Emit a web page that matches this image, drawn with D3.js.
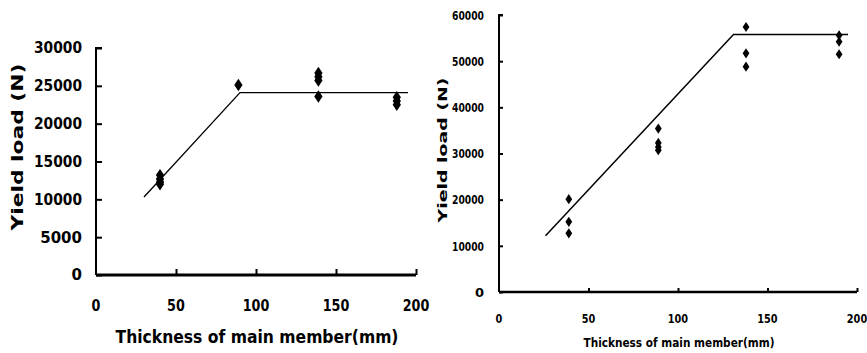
<!DOCTYPE html>
<html>
<head>
<meta charset="utf-8">
<script src="https://cdn.jsdelivr.net/npm/d3@7"></script>
<style>
  body { margin: 0; background: #fff; }
  svg { display: block; }
  text { font-family: "DejaVu Sans", sans-serif; font-weight: bold; fill: #000; }
</style>
</head>
<body>
<svg id="chart" width="867" height="353"></svg>
<script>
// dados
const xTicks = [0, 50, 100, 150, 200];

// painel esquerdo
const leftYTicks = [0, 5000, 10000, 15000, 20000, 25000, 30000];
const leftPointsX = [40, 40, 40, 40, 89, 139, 139, 139, 139, 188, 188, 188];
const leftPointsY = [13200, 12700, 12300, 12000, 25100, 26700, 26200, 25700, 23600, 23500, 23000, 22500];
const leftLineX = [30, 90, 195];
const leftLineY = [10300, 24100, 24100];

// painel direito
const rightYTicks = [0, 10000, 20000, 30000, 40000, 50000, 60000];
const rightPointsX = [39, 39, 39, 89, 89, 89, 89, 138, 138, 138, 190, 190, 190];
const rightPointsY = [20100, 15200, 12700, 35400, 32300, 31400, 30700, 57400, 51700, 48800, 55600, 54200, 51500];
const rightLineX = [26, 131, 195];
const rightLineY = [12200, 55800, 55800];

const xTitle = 'Thickness of main member(mm)';
const yTitle = 'Yield load (N)';

var svg = d3.select('#chart');

function drawPanel(cfg){
	/*
	desenha um painel
	cfg -- posicoes, tamanhos e dados do painel
	*/
	var g = svg.append('g');

	var xScale = d3.scaleLinear().domain([0, 200]).range([cfg.x0, cfg.x1]);
	var yScale = d3.scaleLinear().domain([0, cfg.yMax]).range([cfg.y0, cfg.y1]);

	//eixo y, ticks para dentro
	var yAxis = d3.axisRight(yScale).tickValues(cfg.yTicks).tickSize(cfg.tick).tickFormat('');
	g.append('g')
		.attr('transform', 'translate(' + cfg.x0 + ',0)')
		.call(yAxis)
		.call(function(s){
			s.select('.domain').attr('stroke-width', 2).attr('d', 'M' + cfg.tick + ',' + cfg.y1 + 'H0V' + cfg.y0);
			s.selectAll('line').attr('stroke-width', 2);
		});

	//eixo x, ticks para cima
	var xAxis = d3.axisTop(xScale).tickValues(xTicks.slice(1)).tickSize(cfg.tick).tickFormat('');
	g.append('g')
		.attr('transform', 'translate(0,' + cfg.y0 + ')')
		.call(xAxis)
		.call(function(s){
			s.select('.domain').attr('stroke-width', cfg.xAxisWidth).attr('d', 'M' + cfg.x0 + ',0H' + xScale(200));
			s.selectAll('line').attr('stroke-width', 2);
		});

	//rotulos y
	g.selectAll('.ylab')
		.data(cfg.yTicks)
		.enter().append('text')
		.attr('x', cfg.yLabX)
		.attr('y', function(d){ return yScale(d); })
		.attr('dy', '0.36em')
		.attr('text-anchor', 'end')
		.attr('font-size', cfg.tickFont)
		.attr('textLength', cfg.yLabW)
		.attr('lengthAdjust', 'spacingAndGlyphs')
		.text(function(d){ return d; })
		.each(function(d){
			// textLength so para numeros de 5 digitos
			if(String(d).length < 5){ d3.select(this).attr('textLength', null); }
		});

	//rotulos x
	g.selectAll('.xlab')
		.data(xTicks)
		.enter().append('text')
		.attr('x', function(d){ return xScale(d); })
		.attr('y', cfg.xLabY)
		.attr('text-anchor', 'middle')
		.attr('font-size', cfg.tickFont)
		.attr('transform', function(d){
			var x = xScale(d);
			return 'translate(' + x + ',0) scale(' + cfg.xLabSx + ',1) translate(' + (-x) + ',0)';
		})
		.text(function(d){ return d; });

	//titulos
	g.append('text')
		.attr('x', cfg.xTitleX)
		.attr('y', cfg.xTitleY)
		.attr('text-anchor', 'middle')
		.attr('font-size', cfg.titleFont)
		.attr('textLength', cfg.xTitleW)
		.attr('lengthAdjust', 'spacingAndGlyphs')
		.text(xTitle);

	g.append('text')
		.attr('transform', 'translate(' + cfg.yTitleX + ',' + cfg.yTitleY + ') rotate(-90)')
		.attr('text-anchor', 'middle')
		.attr('font-size', cfg.yTitleFont)
		.attr('textLength', cfg.yTitleW)
		.attr('lengthAdjust', 'spacingAndGlyphs')
		.text(yTitle);

	//linha de tendencia
	var line = d3.line()
		.x(function(d){ return xScale(d[0]); })
		.y(function(d){ return yScale(d[1]); });
	g.append('path')
		.datum(d3.zip(cfg.lineX, cfg.lineY))
		.attr('d', line)
		.attr('fill', 'none')
		.attr('stroke', '#000')
		.attr('stroke-width', cfg.lineWidth);

	//pontos (losangos)
	var sym = d3.symbol().type(d3.symbolDiamond).size(cfg.markSize);
	g.selectAll('.pt')
		.data(d3.zip(cfg.px, cfg.py))
		.enter().append('path')
		.attr('d', sym)
		.attr('transform', function(d){
			return 'translate(' + xScale(d[0]) + ',' + yScale(d[1]) + ') scale(1.15,1)';
		})
		.attr('fill', '#000');
}

drawPanel({
	x0: 96, x1: 416, y0: 275, y1: 48, yMax: 30000, tick: 6, xAxisWidth: 3,
	yTicks: leftYTicks, px: leftPointsX, py: leftPointsY,
	lineX: leftLineX, lineY: leftLineY, lineWidth: 1.3,
	tickFont: 15, yLabX: 82, yLabW: 48, xLabY: 311, xLabSx: 0.85,
	titleFont: 17, xTitleX: 257, xTitleY: 343, xTitleW: 283,
	yTitleFont: 16, yTitleX: 23, yTitleY: 147, yTitleW: 167, markSize: 45
});

drawPanel({
	x0: 499, x1: 857, y0: 292, y1: 15, yMax: 60000, tick: 4, xAxisWidth: 2.5,
	yTicks: rightYTicks, px: rightPointsX, py: rightPointsY,
	lineX: rightLineX, lineY: rightLineY, lineWidth: 1.5,
	tickFont: 13, yLabX: 484, yLabW: 32, xLabY: 323, xLabSx: 0.75,
	titleFont: 13, xTitleX: 679, xTitleY: 347, xTitleW: 191,
	yTitleFont: 12, yTitleX: 447, yTitleY: 150, yTitleW: 145, markSize: 30
});
</script>
</body>
</html>
